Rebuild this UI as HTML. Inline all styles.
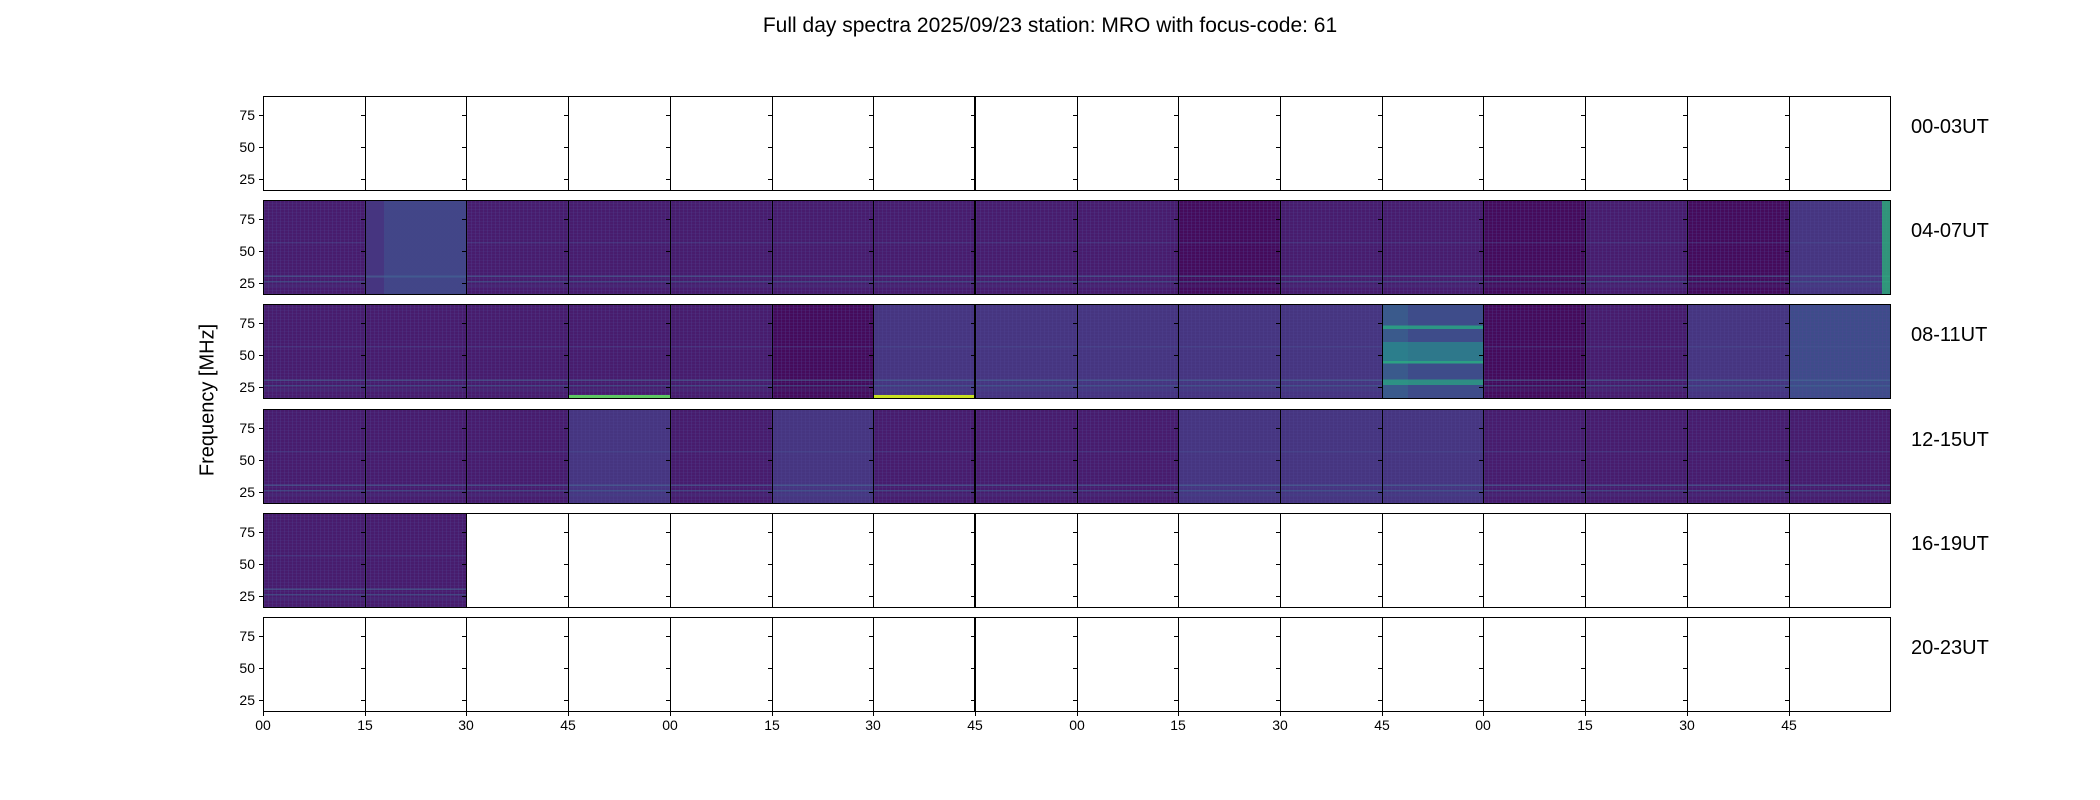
<!DOCTYPE html>
<html><head><meta charset="utf-8"><style>
body{margin:0;background:#fff;width:2100px;height:800px;position:relative;overflow:hidden;font-family:"Liberation Sans","DejaVu Sans",sans-serif;color:#000}
.p{position:absolute;height:95px;border:1px solid #000;box-sizing:border-box;background:#fff}
.s{background:
 linear-gradient(to bottom,transparent 0 80%,rgba(70,110,150,.55) 80% 81.5%,transparent 81.5% 86%,rgba(60,110,145,.45) 86% 87.5%,transparent 87.5% 91%,rgba(60,90,140,.35) 91% 92%,transparent 92%),
 linear-gradient(to bottom,transparent 0 44%,rgba(70,90,150,.3) 44% 45.5%,transparent 45.5%),
 repeating-linear-gradient(90deg,rgba(80,70,150,.28) 0 1px,transparent 1px 4px),
 repeating-linear-gradient(0deg,rgba(80,70,150,.18) 0 1px,transparent 1px 3px),
 var(--b,#471a69);}
.A{--b:#450b5b}.B{--b:#481c6d}.C{--b:#463580}.D{--b:#3e4c8a}
.t{position:absolute;font-size:14px}
.yl{width:30px;text-align:right}
.tk{position:absolute;background:#000}
.rl{position:absolute;left:1911px;font-size:20px}
</style></head><body>
<div style="position:absolute;left:0;width:2100px;top:14px;text-align:center;font-size:21px">Full day spectra 2025/09/23 station: MRO with focus-code: 61</div>
<div style="position:absolute;left:208px;top:400px;transform:translate(-50%,-50%) rotate(-90deg);font-size:20px;white-space:nowrap">Frequency [MHz]</div>
<div id="g"></div>
<script>
var g=document.getElementById('g'),h='';
var L=263,W=101.7,T=96,P=104.2;
var rows=[null,'BCBBBBBBBABBABAC','BBBBBACCCCCDABCD','BBBCBCBBBCCCBBBB','BB',null];
var labs=['00-03UT','04-07UT','08-11UT','12-15UT','16-19UT','20-23UT'];
function X(k){return Math.round(L+k*W);}
for(var r=0;r<6;r++){
 var y=Math.round(T+r*P);
 for(var c=0;c<16;c++){
  var x=X(c),w=X(c+1)-x+1;
  var cls='p';
  if(rows[r]&&c<rows[r].length){cls+=' s '+rows[r][c];}
  var extra='';
  if(r==1&&c==1)extra='background-image:linear-gradient(90deg,transparent 18%,rgba(60,100,150,.35) 18% 100%),linear-gradient(to bottom,transparent 0 80%,rgba(70,110,150,.55) 80% 82%,transparent 82%);';
  if(r==1&&c==15)extra='box-shadow:inset -8px 0 0 rgba(40,190,120,.7);';
  if(r==2&&c==11)extra='background-image:linear-gradient(to bottom,transparent 0 22%,rgba(40,170,130,.8) 22% 26%,transparent 26% 40%,rgba(35,150,140,.6) 40% 60%,rgba(40,180,130,.8) 60% 63%,transparent 63% 80%,rgba(40,170,130,.7) 80% 86%,transparent 86%),linear-gradient(90deg,#3a5a8c 0 25%,#3e4c8a 25%);';
  if(r==2&&c==6)extra='box-shadow:inset 0 -8px 0 -5px #c8e020;';
  if(r==2&&c==3)extra='box-shadow:inset 0 -8px 0 -5px #5ec962;';
  h+='<div class="'+cls+'" style="left:'+x+'px;width:'+w+'px;top:'+y+'px;'+extra+'"></div>';
  [[19,'75'],[51,'50'],[83,'25']].forEach(function(t){
   h+='<div class="tk" style="left:'+(x-4)+'px;top:'+(y+t[0])+'px;width:4px;height:1px"></div>';
   if(c==0)h+='<div class="t yl" style="left:'+(x-38)+'px;top:'+(y+t[0]-8)+'px">'+t[1]+'</div>';
  });
 }
 h+='<div class="rl" style="top:'+(y+20)+'px">'+labs[r]+'</div>';
}
var xl=['00','15','30','45'];
var yb=Math.round(T+5*P)+95;
for(var k=0;k<16;k++){
 var x=X(k);
 h+='<div class="tk" style="left:'+x+'px;top:'+yb+'px;width:1px;height:4px"></div>';
 h+='<div class="t" style="left:'+(x-20)+'px;width:40px;text-align:center;top:'+(yb+5)+'px">'+xl[k%4]+'</div>';
}
for(var r=0;r<6;r++){h+='<div class="tk" style="left:'+(X(7)-1)+'px;top:'+Math.round(T+r*P)+'px;width:2px;height:95px"></div>';}
g.innerHTML=h;
</script>
</body></html>
